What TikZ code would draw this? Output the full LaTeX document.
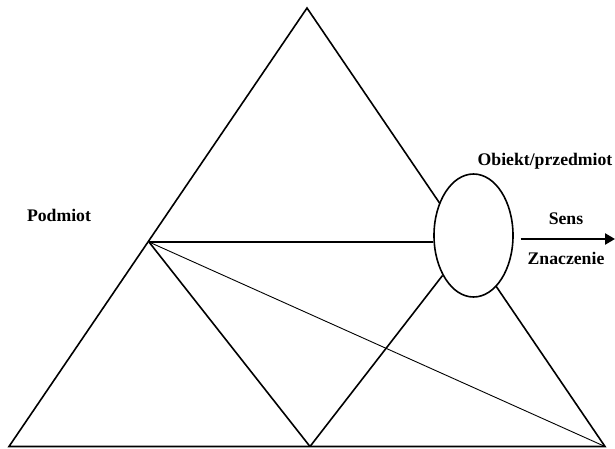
\documentclass[tikz,border=0pt]{standalone}
\usepackage{fontspec}
\setmainfont{Liberation Serif}
\usetikzlibrary{shapes.geometric,arrows.meta}
\tikzset{
  thick line/.style={line width=1.6pt, line join=miter},
  thin line/.style={line width=0.9pt},
  lbl/.style={font=\fontsize{17.7}{20}\selectfont\bfseries, anchor=base, inner sep=0pt},
  objshape/.style={ellipse, draw, line width=1.6pt, minimum width=79pt, minimum height=123pt, inner sep=0pt}
}
\begin{document}
\begin{tikzpicture}[x=1pt,y=-1pt]
\useasboundingbox (0,0) rectangle (615,449);
\coordinate (apex) at (307,8);
\coordinate (bl) at (9,446.5);
\coordinate (br) at (605,446.5);
\coordinate (bm) at (310,446.5);
\coordinate (lv) at (149,242);
\coordinate (tip) at (615,239);
\draw[thick line] (bl) -- (apex) -- (br) -- cycle;
\node[objshape, fill=white] (obj) at (473.5,235.5) {};
\draw[thick line] (lv) -- (obj.west |- lv);
\draw[thick line] (lv) -- (bm);
\draw[thick line] (bm) -- (obj);
\draw[thin line] (lv) -- (br);
\coordinate (astart) at (520.5,239);
\draw[line width=2.5pt, -{Triangle[length=10pt,width=11pt]}] (astart) -- (tip);
\node[lbl] (podmiot) at (59,221) {Podmiot};
\node[lbl] (obiekt) at (545,166) {Obiekt/przedmiot};
\node[lbl] (sens) at (566,224) {Sens};
\node[lbl] (znacz) at (566,264) {Znaczenie};
\end{tikzpicture}
\end{document}
